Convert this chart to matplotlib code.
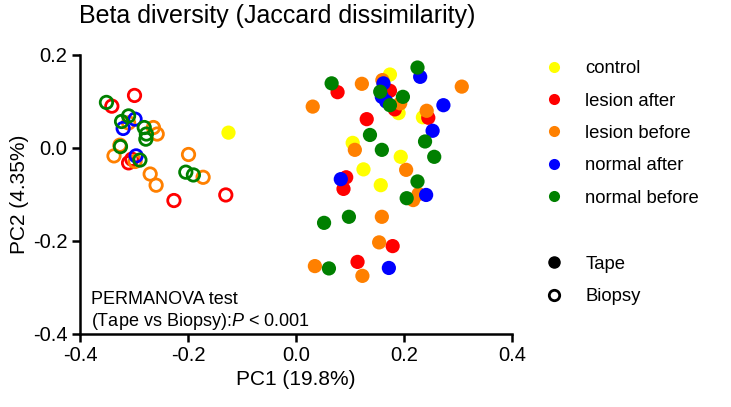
import matplotlib
matplotlib.use("Agg")
import matplotlib.pyplot as plt
from matplotlib.lines import Line2D

plt.rcParams["font.family"] = ["Liberation Sans", "DejaVu Sans"]
plt.rcParams["axes.unicode_minus"] = False
plt.rcParams["mathtext.fontset"] = "custom"
plt.rcParams["mathtext.rm"] = "Liberation Sans"
plt.rcParams["mathtext.it"] = "Liberation Sans:italic"

groups = ["control", "lesion after", "lesion before", "normal after", "normal before"]
colors = {"control": "#FFFF00", "lesion after": "#FF0000", "lesion before": "#FF8000",
          "normal after": "#0000FF", "normal before": "#008000"}

# Tape samples (filled): (PC1, PC2)
tape = {
    "control": [(-0.125, 0.033), (0.174, 0.158), (0.162, 0.125), (0.190, 0.075),
                (0.235, 0.066), (0.105, 0.011), (0.194, -0.019), (0.125, -0.046),
                (0.157, -0.080)],
    "lesion after": [(0.077, 0.120), (0.174, 0.123), (0.183, 0.083), (0.245, 0.065),
                     (0.131, 0.062), (0.093, -0.063), (0.088, -0.088), (0.179, -0.211),
                     (0.114, -0.245)],
    "lesion before": [(0.122, 0.138), (0.031, 0.089), (0.307, 0.132), (0.160, 0.146),
                      (0.193, 0.096), (0.242, 0.080), (0.109, -0.004), (0.204, -0.047),
                      (0.227, -0.099), (0.217, -0.112), (0.159, -0.148), (0.154, -0.203),
                      (0.035, -0.254), (0.123, -0.275)],
    "normal after": [(0.230, 0.153), (0.162, 0.139), (0.159, 0.110), (0.167, 0.100),
                     (0.273, 0.092), (0.253, 0.037), (0.083, -0.067), (0.241, -0.101),
                     (0.172, -0.258)],
    "normal before": [(0.066, 0.139), (0.225, 0.173), (0.156, 0.121), (0.198, 0.110),
                      (0.174, 0.092), (0.137, 0.028), (0.159, -0.004), (0.239, 0.014),
                      (0.256, -0.019), (0.225, -0.072), (0.205, -0.108), (0.052, -0.161),
                      (0.098, -0.148), (0.061, -0.259)],
}

# Biopsy samples (open): (PC1, PC2)
biopsy = {
    "control": [],
    "lesion after": [(-0.341, 0.090), (-0.299, 0.113), (-0.310, -0.032), (-0.304, -0.024),
                     (-0.226, -0.113), (-0.130, -0.101)],
    "lesion before": [(-0.310, 0.054), (-0.264, 0.044), (-0.257, 0.030), (-0.326, 0.006),
                      (-0.337, -0.017), (-0.298, -0.029), (-0.199, -0.014), (-0.270, -0.056),
                      (-0.259, -0.080), (-0.172, -0.063)],
    "normal after": [(-0.298, 0.062), (-0.320, 0.042), (-0.296, -0.017)],
    "normal before": [(-0.351, 0.098), (-0.310, 0.069), (-0.323, 0.057), (-0.281, 0.044),
                      (-0.277, 0.030), (-0.278, 0.019), (-0.325, 0.003), (-0.289, -0.026),
                      (-0.204, -0.052), (-0.190, -0.058)],
}

fig = plt.figure(figsize=(7.31, 4.07), dpi=100)
ax = fig.add_axes([0.1094, 0.1794, 0.591, 0.6855])

for g in groups:
    pts = biopsy[g]
    if pts:
        xs, ys = zip(*pts)
        ax.scatter(xs, ys, s=80, facecolors="none", edgecolors=colors[g], linewidths=2, zorder=2)
for g in groups:
    xs, ys = zip(*tape[g])
    ax.scatter(xs, ys, s=105, color=colors[g], edgecolors="none", zorder=3)

ax.set_xlim(-0.4, 0.4)
ax.set_ylim(-0.4, 0.2)
ax.set_xticks([-0.4, -0.2, 0.0, 0.2, 0.4])
ax.set_yticks([-0.4, -0.2, 0.0, 0.2])
ax.set_xticklabels(["-0.4", "-0.2", "0.0", "0.2", "0.4"])
ax.set_yticklabels(["-0.4", "-0.2", "0.0", "0.2"])
for s in ["top", "right"]:
    ax.spines[s].set_visible(False)
for s in ["left", "bottom"]:
    ax.spines[s].set_linewidth(1.8)
ax.tick_params(width=1.8, length=6, labelsize=14.5, pad=3)
ax.set_xlabel("PC1 (19.8%)", fontsize=15, labelpad=3)
ax.set_ylabel("PC2 (4.35%)", fontsize=15, labelpad=3)
fig.text(0.108, 0.96, "Beta diversity (Jaccard dissimilarity)", fontsize=18, va="center")

ax.text(0.025, 0.125, "PERMANOVA test", transform=ax.transAxes, fontsize=13, va="center")
ax.text(0.025, 0.045, "(Tape vs Biopsy):$\\mathit{P}$ < 0.001", transform=ax.transAxes,
        fontsize=13, va="center")

handles = [Line2D([], [], marker="o", linestyle="none", color=colors[g], markersize=8,
                  markeredgewidth=0) for g in groups]
fig.legend(handles, groups, loc="upper left", bbox_to_anchor=(0.735, 0.87),
           frameon=False, fontsize=13.3, handletextpad=1.2, labelspacing=0.83,
           handlelength=1.0, borderaxespad=0)
handles2 = [Line2D([], [], marker="o", linestyle="none", color="black", markersize=8),
            Line2D([], [], marker="o", linestyle="none", markerfacecolor="none",
                   markeredgecolor="black", markeredgewidth=2, markersize=7.5)]
fig.legend(handles2, ["Tape", "Biopsy"], loc="upper left", bbox_to_anchor=(0.735, 0.39),
           frameon=False, fontsize=13.3, handletextpad=1.2, labelspacing=0.83,
           handlelength=1.0, borderaxespad=0)

fig.savefig("out.png", dpi=100)
